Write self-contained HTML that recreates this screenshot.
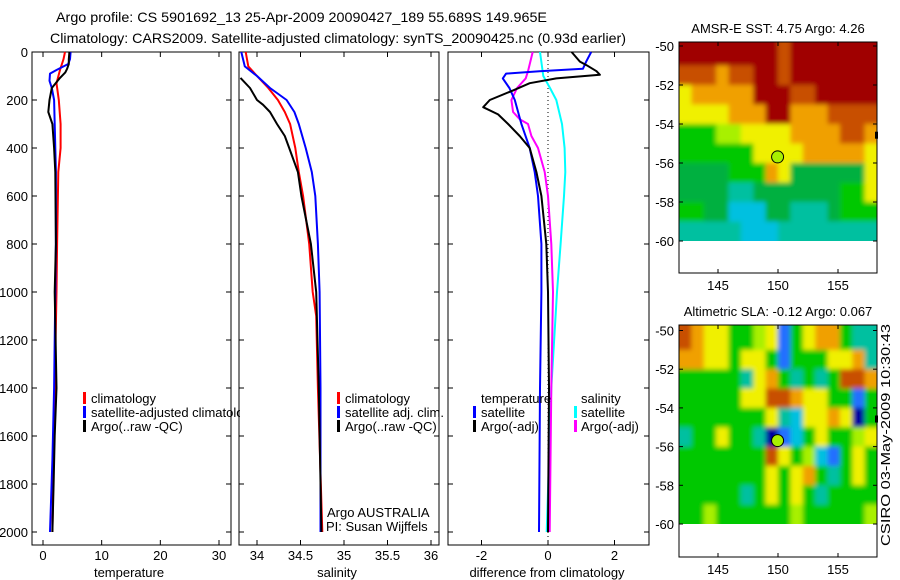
<!DOCTYPE html>
<html><head><meta charset="utf-8">
<style>
html,body{margin:0;padding:0;background:#fff;}
svg{display:block;font-family:"Liberation Sans",sans-serif;}
text{fill:#000;}
</style></head>
<body>
<svg id="fig" width="900" height="580" viewBox="0 0 900 580" xmlns="http://www.w3.org/2000/svg">
<defs>
<clipPath id="clipP1"><rect x="0" y="0" width="240" height="580"/></clipPath>
<clipPath id="clipSST"><rect x="679" y="42" width="198" height="199"/></clipPath>
<clipPath id="clipSLA"><rect x="679" y="325" width="198" height="199"/></clipPath>
<filter id="soft" x="-5%" y="-5%" width="110%" height="110%"><feGaussianBlur stdDeviation="2.5"/></filter>
</defs>
<text x="56" y="22" font-size="14" textLength="491" lengthAdjust="spacingAndGlyphs">Argo profile: CS 5901692_13 25-Apr-2009 20090427_189 55.689S 149.965E</text>
<text x="50" y="43" font-size="14" textLength="576" lengthAdjust="spacingAndGlyphs">Climatology: CARS2009. Satellite-adjusted climatology: synTS_20090425.nc (0.93d earlier)</text>
<g id="panels"></g>
<text transform="translate(890,546) rotate(-90)" font-size="13" textLength="222" lengthAdjust="spacingAndGlyphs">CSIRO 03-May-2009 10:30:43</text>
</svg>
<script>
// ---------- data ----------
const pressureTicks = [0,200,400,600,800,1000,1200,1400,1600,1800,2000];
const tempTicks = [0,10,20,30];
const salTicks = [34,34.5,35,35.5,36];
const salTickLabels = ["34","34.5","35","35.5","36"];
const diffTicks = [-2,0,2];

const tClimP = [0,30,75,130,200,300,400,500,800,1000,1400,1700,2000];
const tClimV = [3.75,3.5,2.9,2.3,2.7,3.0,3.0,2.6,2.4,2.3,2.0,1.8,1.6];
const tSatP = [0,30,50,75,90,120,150,200,300,500,800,1000,1400,1700,2000];
const tSatV = [4.7,4.6,4.3,2.3,1.2,1.1,1.5,1.9,2.0,2.2,2.2,2.1,1.9,1.6,1.2];
const tArgoP = [0,30,50,70,85,108,150,200,250,300,400,500,800,1000,1400,1600,1800,2000];
const tArgoV = [4.5,4.4,4.4,4.1,3.8,2.9,1.5,1.1,0.9,1.6,1.9,2.1,2.2,2.0,2.3,2.0,1.8,1.6];

const sClimP = [0,60,100,150,200,250,300,400,500,600,800,1000,1100,1400,2000];
const sClimV = [33.87,33.9,34.0,34.13,34.24,34.32,34.38,34.44,34.48,34.53,34.6,34.64,34.68,34.70,34.75];
const sSatP = [0,60,100,150,200,250,300,400,500,600,800,1000,1400,2000];
const sSatV = [33.82,33.86,34.0,34.15,34.34,34.43,34.48,34.56,34.63,34.67,34.7,34.72,34.73,34.73];
const sArgoP = [108,150,200,220,250,300,350,400,500,600,800,1000,1400,2000];
const sArgoV = [33.81,33.92,34.0,34.07,34.15,34.23,34.32,34.37,34.47,34.51,34.62,34.68,34.71,34.74];

const dTSatP = [0,40,70,80,90,110,150,200,300,400,500,600,800,1000,1400,2000];
const dTSatV = [1.3,1.15,1.05,-0.26,-1.26,-1.36,-1.16,-1.0,-0.8,-0.55,-0.4,-0.3,-0.2,-0.2,-0.24,-0.27];
const dTArgoP = [0,40,55,80,95,110,130,160,200,230,260,300,350,400,500,600,800,1000,1400,2000];
const dTArgoV = [0.71,0.96,1.16,1.46,1.56,0.25,-0.55,-1.05,-1.75,-1.95,-1.5,-1.2,-0.85,-0.55,-0.35,-0.2,-0.05,0.0,0.03,0.0];
const dSSatP = [0,100,150,200,300,400,500,600,800,1000,1400,2000];
const dSSatV = [-0.24,-0.14,0.06,0.25,0.42,0.5,0.52,0.48,0.38,0.27,0.1,-0.04];
const dSArgoP = [0,80,110,150,200,250,280,300,350,400,500,600,800,1000,1400,2000];
const dSArgoV = [-0.46,-0.6,-0.67,-0.93,-1.1,-1.05,-0.85,-0.6,-0.5,-0.3,-0.1,0.0,0.1,0.15,0.1,0.05];

const latTicks = [-50,-52,-54,-56,-58,-60];
const lonTicks = [145,150,155];
const floatLon = 149.965, floatLat = -55.689;
const sstRows = [
 "RRRRRRRRrRRRRRRR",
 "rrrorrRRrRRRRRRR",
 "yoooooRRRrrRRRRR",
 "yyyyoooRRooorrrr",
 "gggllyyyyoooorro",
 "ggggggyyyyoooooy",
 "GGGGgggoyGGGGGGy",
 "GGGGttGGGGGGGggy",
 "ggGGcccGGtttGggg",
 "tttttccctttttttt"];
const slaRows = [
 "royygglybgyoogtt",
 "ooyygyygbgggyyot",
 "gggggtyogtgtgrro",
 "gggggyyrroyyggbg",
 "gggggggytcyyoyBg",
 "tggyggtBbcgyggly",
 "gggggggryglcbgyg",
 "gggggggygyogtgyg",
 "gggggtgygygtgggg",
 "gglgggggglgggggl"];
const palette = {R:"#a00000",r:"#c85000",o:"#f0a000",y:"#f0f000",l:"#a8f000",g:"#00c800",G:"#00b040",t:"#00c0a0",c:"#00c0e0",b:"#2070ff",B:"#0000a0"};

// ---------- helpers ----------
const NS = "http://www.w3.org/2000/svg";
const root = document.getElementById('panels');
function el(tag, attrs, parent){
  const e = document.createElementNS(NS, tag);
  for (const k in attrs) e.setAttribute(k, attrs[k]);
  (parent||root).appendChild(e);
  return e;
}
const yTop = 52, yPerDbar = 0.24, frameTop = 52, frameBot = 545;
function yScale(p){ return yTop + p*yPerDbar; }
function linScale(v0,x0,v1,x1){ return v => x0 + (v-v0)*(x1-x0)/(v1-v0); }
const xTemp = linScale(0,43,30,219);
const xSal = linScale(34,257,36,431);
const xDiff = linScale(-2,481.5,2,614.5);

function frame(x0,x1,name){
  const r = el('rect',{x:x0,y:frameTop,width:x1-x0,height:frameBot-frameTop,fill:'none',stroke:'#000','stroke-width':1});
  
  
}
function yTicks(x0,x1,labels){
  pressureTicks.forEach(p=>{
    const y=yScale(p);
    const t = el('line',{x1:x0,y1:y,x2:x0+5,y2:y,stroke:'#000'});
    
    
    const t2 = el('line',{x1:x1-5,y1:y,x2:x1,y2:y,stroke:'#000'});
    
    
    if(labels){
      const tx = el('text',{x:x0-4,y:y+5,'font-size':13,'text-anchor':'end'});
      tx.textContent = p;
      
      
    }
  });
}
function xTicks(vals,labels,sc){
  vals.forEach((v,i)=>{
    const x=sc(v);
    const t = el('line',{x1:x,y1:frameBot,x2:x,y2:frameBot-5,stroke:'#000'});
    
    
    const t2 = el('line',{x1:x,y1:frameTop,x2:x,y2:frameTop+5,stroke:'#000'});
    
    
    const tx = el('text',{x:x,y:frameBot+15,'font-size':13,'text-anchor':'middle'});
    tx.textContent = labels[i];
    
    
  });
}
function line(P,V,sc,color,name,x0,x1,w){
  const pts = P.map((p,i)=>{
    let x = Math.max(x0, Math.min(x1, sc(V[i])));
    return x.toFixed(1)+','+yScale(p).toFixed(1);
  }).join(' ');
  const l = el('polyline',{points:pts,fill:'none',stroke:color,'stroke-width':w||2,'stroke-linejoin':'round'});
  
  
}
function text(x,y,s,name,anchor,size,parent){
  const t = el('text',{x:x,y:y,'font-size':size||13,'text-anchor':anchor||'start'},parent);
  t.textContent = s;
  
  
  return t;
}
function legendMark(x,y,color){
  const m = el('rect',{x:x,y:y-11,width:3,height:12,fill:color});
  
  
}

// ---------- temperature panel ----------
const P1 = [32,231];
frame(P1[0],P1[1],'temperature-panel-frame');
yTicks(P1[0],P1[1],true);
xTicks(tempTicks,tempTicks.map(String),xTemp);
line(tClimP,tClimV,xTemp,'#ff0000','temp-climatology-line',P1[0],P1[1]);
line(tSatP,tSatV,xTemp,'#0000ff','temp-satellite-line',P1[0],P1[1]);
line(tArgoP,tArgoV,xTemp,'#000000','temp-argo-line',P1[0],P1[1]);
text(129,577,'temperature','x-axis-title-temperature','middle');
const lg1 = el('g',{'clip-path':'url(#clipP1)'});


legendMark(83,403,'#ff0000'); text(91,403,'climatology','legend-entry-climatology',null,13,lg1);
legendMark(83,417,'#0000ff'); text(91,417,'satellite-adjusted climatology','legend-entry-satellite',null,13,lg1);
legendMark(83,431,'#000000'); text(91,431,'Argo(..raw -QC)','legend-entry-argo',null,13,lg1);

// ---------- salinity panel ----------
const P2 = [239,439];
frame(P2[0],P2[1],'salinity-panel-frame');
yTicks(P2[0],P2[1],false);
xTicks(salTicks,salTickLabels,xSal);
line(sClimP,sClimV,xSal,'#ff0000','sal-climatology-line',P2[0],P2[1]);
line(sSatP,sSatV,xSal,'#0000ff','sal-satellite-line',P2[0],P2[1]);
line(sArgoP,sArgoV,xSal,'#000000','sal-argo-line',P2[0],P2[1]);
text(337,577,'salinity','x-axis-title-salinity','middle');
legendMark(337,403,'#ff0000'); text(345,403,'climatology','legend-entry-climatology');
legendMark(337,417,'#0000ff'); text(345,417,'satellite adj. clim.','legend-entry-satellite');
legendMark(337,431,'#000000'); text(345,431,'Argo(..raw -QC)','legend-entry-argo');
text(327,517,'Argo AUSTRALIA','argo-country-label');
text(326,531,'PI: Susan Wijffels','pi-label');

// ---------- difference panel ----------
const P3 = [448,649];
frame(P3[0],P3[1],'difference-panel-frame');
yTicks(P3[0],P3[1],false);
xTicks(diffTicks,diffTicks.map(String),xDiff);
const zl = el('line',{x1:xDiff(0),y1:frameTop,x2:xDiff(0),y2:frameBot,stroke:'#000','stroke-dasharray':'1,3'});


line(dSSatP,dSSatV,xDiff,'#00ffff','diff-sal-satellite-line',P3[0],P3[1]);
line(dSArgoP,dSArgoV,xDiff,'#ff00ff','diff-sal-argo-line',P3[0],P3[1]);
line(dTSatP,dTSatV,xDiff,'#0000ff','diff-temp-satellite-line',P3[0],P3[1]);
line(dTArgoP,dTArgoV,xDiff,'#000000','diff-temp-argo-line',P3[0],P3[1]);
text(547,577,'difference from climatology','x-axis-title-difference','middle');
text(481,403,'temperature','legend-header-temperature');
legendMark(473,417,'#0000ff'); text(481,417,'satellite','legend-entry-temp-satellite');
legendMark(473,431,'#000000'); text(481,431,'Argo(-adj)','legend-entry-temp-argo');
text(581,403,'salinity','legend-header-salinity');
legendMark(574,417,'#00ffff'); text(581,417,'satellite','legend-entry-sal-satellite');
legendMark(574,431,'#ff00ff'); text(581,431,'Argo(-adj)','legend-entry-sal-argo');

// ---------- maps ----------
function drawMap(rows, top, lat50y, lat60y, bottom, title, name, clipId){
  const x0=679, x1=877, lonMin=141.75, lonMax=158.25;
  const lonX = linScale(lonMin,x0,lonMax,x1);
  const latY = linScale(-50,lat50y,-60,lat60y);
  const g = el('g',{});
  
  
  const clipG = el('g',{'clip-path':'url(#'+clipId+')'},g);
  const cells = el('g',{filter:'url(#soft)'},clipG);
  
  
  const nC = rows[0].length, nR = rows.length;
  const dLon = (lonMax-lonMin)/nC;
  rows.forEach((row,r)=>{
    for(let c=0;c<nC;c++){
      let xa = lonX(lonMin+c*dLon), xb = lonX(lonMin+(c+1)*dLon);
      if(c===0) xa -= 6;
      if(c===nC-1) xb += 6;
      const ya = r===0 ? top-6 : latY(-50-r);
      const yb = r===nR-1 ? latY(-51-r)+6 : latY(-51-r);
      const cell = el('rect',{x:xa.toFixed(1),y:ya.toFixed(1),width:(xb-xa+0.6).toFixed(1),height:(yb-ya+0.6).toFixed(1),fill:palette[row[c]]},cells);
      
      
    }
  });
  const fr = el('rect',{x:x0,y:top,width:x1-x0,height:bottom-top,fill:'none',stroke:'#000'},g);
  
  
  latTicks.forEach(l=>{
    const y=latY(l);
    el('line',{x1:x0,y1:y,x2:x0+4,y2:y,stroke:'#000'},g);
    el('line',{x1:x1-4,y1:y,x2:x1,y2:y,stroke:'#000'},g);
    const t = el('text',{x:x0-5,y:y+5,'font-size':13,'text-anchor':'end'},g);
    t.textContent = l;
    
    
  });
  lonTicks.forEach(l=>{
    const x=lonX(l);
    el('line',{x1:x,y1:bottom,x2:x,y2:bottom-4,stroke:'#000'},g);
    el('line',{x1:x,y1:top,x2:x,y2:top+4,stroke:'#000'},g);
    const t = el('text',{x:x,y:bottom+17,'font-size':13,'text-anchor':'middle'},g);
    t.textContent = l;
    
    
  });
  const mk = el('rect',{x:x1-2,y:latY(-54.6)-4,width:3,height:7,fill:'#000'},g);
  
  
  const circ = el('circle',{cx:lonX(floatLon),cy:latY(floatLat),r:6,fill:'#a8f000',stroke:'#000','stroke-width':1},g);
  
  
  const tt = el('text',{x:778,y:top-9,'font-size':13,'text-anchor':'middle'},g);
  tt.textContent = title;
  
  
}
drawMap(sstRows, 42, 46, 241, 273, 'AMSR-E SST: 4.75 Argo: 4.26', 'sst-map', 'clipSST');
drawMap(slaRows, 325, 330.5, 524, 557, 'Altimetric SLA: -0.12 Argo: 0.067', 'sla-map', 'clipSLA');
</script>
</body></html>
